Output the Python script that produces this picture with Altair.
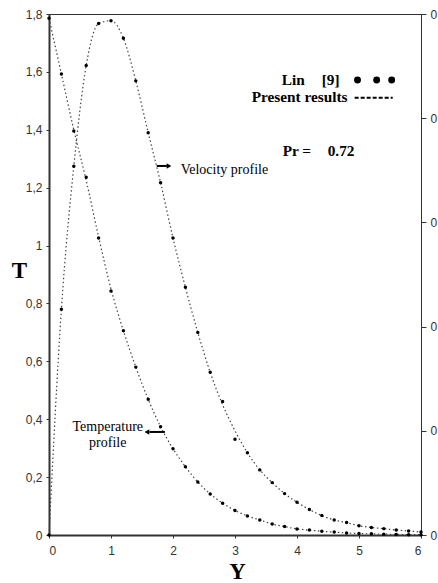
import altair as alt
import pandas as pd

# ---- data ----
Y = [0.0, 0.2, 0.4, 0.6, 0.8, 1.0, 1.2, 1.4, 1.6, 1.8, 2.0, 2.2, 2.4, 2.6, 2.8, 3.0,
     3.2, 3.4, 3.6, 3.8, 4.0, 4.2, 4.4, 4.6, 4.8, 5.0, 5.2, 5.4, 5.6, 5.8, 6.0]

lin_temperature = [1.785, 1.593, 1.396, 1.236, 1.026, 0.843, 0.706, 0.580, 0.469, 0.374,
                   0.298, 0.236, 0.183, 0.142, 0.110, 0.085, 0.066, 0.052, 0.038, 0.029,
                   0.021, 0.017, 0.013, 0.010, 0.007, 0.005, 0.004, 0.003, 0.002, 0.001, 0.001]
lin_velocity = [0.0, 0.780, 1.274, 1.622, 1.767, 1.777, 1.716, 1.569, 1.390, 1.217,
                1.026, 0.856, 0.700, 0.562, 0.461, 0.331, 0.284, 0.225, 0.181, 0.143,
                0.113, 0.088, 0.067, 0.052, 0.043, 0.032, 0.026, 0.022, 0.017, 0.014, 0.010]

present_temperature = [1.785, 1.593, 1.400, 1.225, 1.030, 0.850, 0.706, 0.580, 0.469, 0.374,
                       0.298, 0.236, 0.183, 0.142, 0.110, 0.085, 0.066, 0.052, 0.038, 0.029,
                       0.021, 0.017, 0.013, 0.010, 0.007, 0.005, 0.004, 0.003, 0.002, 0.001, 0.001]
present_velocity = [0.0, 0.780, 1.274, 1.622, 1.767, 1.777, 1.716, 1.569, 1.390, 1.217,
                    1.026, 0.856, 0.700, 0.562, 0.450, 0.360, 0.284, 0.225, 0.181, 0.143,
                    0.113, 0.088, 0.067, 0.052, 0.043, 0.032, 0.026, 0.022, 0.017, 0.014, 0.010]

x_ticks = [0, 1, 2, 3, 4, 5, 6]
y_ticks = [0, 0.2, 0.4, 0.6, 0.8, 1, 1.2, 1.4, 1.6, 1.8]
right_ticks = [0, 0.36, 0.72, 1.08, 1.44, 1.8]

legend_labels = ["Lin", "[9]", "Present results", "Pr =", "0.72"]
legend_x = [3.753, 4.398, 3.269, 3.769, 4.495]
legend_y = [1.572, 1.572, 1.513, 1.327, 1.327]
legend_dot_x = [4.976, 5.285, 5.527]
legend_dot_y = [1.572, 1.572, 1.572]
legend_dash_x = [4.93]
legend_dash_x2 = [5.544]
legend_dash_y = [1.511]

note_labels = ["Velocity profile", "Temperature", "profile"]
note_x = [2.124, 0.948, 0.948]
note_y = [1.261, 0.373, 0.318]

# ---- tables ----
n = len(Y)
pts = pd.DataFrame({"Y": Y * 2, "T": lin_temperature + lin_velocity,
                    "profile": ["Temperature"] * n + ["Velocity"] * n})
lns = pd.DataFrame({"Y": Y * 2, "T": present_temperature + present_velocity,
                    "profile": ["Temperature"] * n + ["Velocity"] * n})
leg = pd.DataFrame({"Y": legend_x, "T": legend_y, "label": legend_labels})
legdots = pd.DataFrame({"Y": legend_dot_x, "T": legend_dot_y})
legdash = pd.DataFrame({"Y": legend_dash_x, "Y2": legend_dash_x2, "T": legend_dash_y})
notes = pd.DataFrame({"Y": note_x, "T": note_y, "label": note_labels})
arrows = pd.DataFrame({"Y": [1.737, 1.869], "Y2": [1.90, 1.62], "T": [1.275, 0.356],
                       "tip": [1.935, 1.58], "shape": ["triangle-right", "triangle-left"]})
right_df = pd.DataFrame({"Y": [0, 6], "R": [0, 1.8]})

xscale = alt.Scale(domain=[0, 6], nice=False, zero=False)
yscale = alt.Scale(domain=[0, 1.8], nice=False)

xaxis = alt.Axis(values=x_ticks, format="d", title="Y", titleFont="Liberation Serif",
                 titleFontWeight="bold", titleFontSize=23, titleColor="black",
                 titleX=188, titleY=36, titleBaseline="middle", titleAlign="center",
                 labelFont="Liberation Sans", labelFontSize=12, labelColor="#333",
                 labelPadding=7, tickSize=3, tickColor="#333", domainColor="#333",
                 domainWidth=2, grid=False)
yaxis = alt.Axis(values=y_ticks, title="T", titleFont="Liberation Serif",
                 titleFontWeight="bold", titleFontSize=23, titleColor="black",
                 titleAngle=0, titleX=-30, titleY=256, titleBaseline="middle",
                 titleAlign="center",
                 labelExpr="datum.value == 0 ? '0' : (datum.value == 1 ? '1' : replace(format(datum.value, '.1f'), '.', ','))",
                 labelFont="Liberation Sans", labelFontSize=12, labelColor="#333",
                 labelPadding=4, tickSize=3, tickColor="#333", domainColor="#333",
                 domainWidth=2, grid=False)

X = alt.X("Y:Q", scale=xscale, axis=xaxis)
T = alt.Y("T:Q", scale=yscale, axis=yaxis)

line_layer = alt.Chart(lns).mark_line(
    interpolate="monotone", color="#444", strokeWidth=1.2, strokeDash=[1.5, 2.5]
).encode(x=X, y=T, detail="profile:N")

point_layer = alt.Chart(pts).mark_circle(color="black", size=12, opacity=1).encode(x=X, y=T)

leg_text = alt.Chart(leg).mark_text(
    font="Liberation Serif", fontWeight="bold", fontSize=15.3, align="left",
    baseline="middle", color="black"
).encode(x=X, y=T, text="label:N")

leg_dots = alt.Chart(legdots).mark_circle(color="black", size=48, opacity=1).encode(x=X, y=T)

leg_dash = alt.Chart(legdash).mark_rule(color="black", strokeWidth=2,
                                        strokeDash=[4, 2]).encode(x=X, x2="Y2:Q", y=T)

vel_note = alt.Chart(notes).transform_filter(alt.datum.label == "Velocity profile").mark_text(
    font="Liberation Serif", fontSize=14, align="left", baseline="middle", color="black"
).encode(x=X, y=T, text="label:N")
temp_note = alt.Chart(notes).transform_filter(alt.datum.label != "Velocity profile").mark_text(
    font="Liberation Serif", fontSize=14, align="center", baseline="middle", color="black"
).encode(x=X, y=T, text="label:N")

arrow_shaft = alt.Chart(arrows).mark_rule(color="black", strokeWidth=2).encode(
    x=X, x2="Y2:Q", y=T)
arrow_head = alt.Chart(arrows).mark_point(filled=True, color="black", size=30, opacity=1).encode(
    x=alt.X("tip:Q", scale=xscale), y=T,
    shape=alt.Shape("shape:N", scale=None))

main = alt.layer(line_layer, point_layer, leg_text, leg_dots, leg_dash, vel_note, temp_note,
                 arrow_shaft, arrow_head)

right = alt.Chart(right_df).mark_point(opacity=0).encode(
    x=alt.X("Y:Q", scale=xscale),
    y=alt.Y("R:Q", scale=alt.Scale(domain=[0, 1.8], nice=False),
            axis=alt.Axis(orient="right", values=right_ticks, labelExpr="'0'", title=None,
                          labelFont="Liberation Sans", labelFontSize=12, labelColor="#333",
                          tickSize=5, tickColor="#333", domainColor="#333", domainWidth=1,
                          labelPadding=4, grid=False)))

chart = alt.layer(main, right).resolve_scale(y="independent").properties(
    width=372, height=521,
    autosize=alt.AutoSizeParams(type="none"),
    padding={"left": 49, "top": 14, "right": 17, "bottom": 48},
    background="white",
).configure_view(stroke="#333", strokeWidth=1)

chart.save("out.html", embed_options={"renderer": "svg", "actions": False})
